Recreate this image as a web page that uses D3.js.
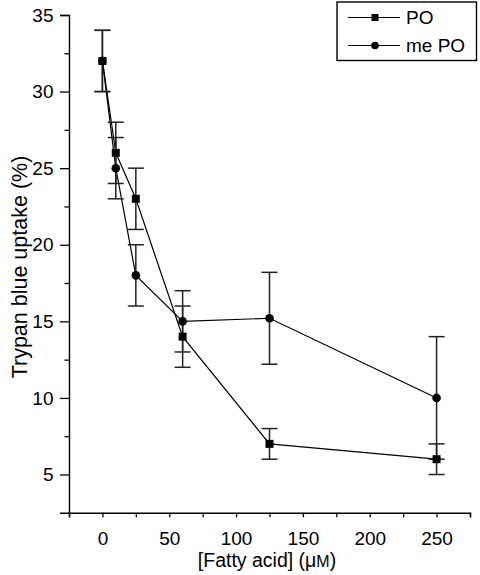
<!DOCTYPE html>
<html>
<head>
<meta charset="utf-8">
<script src="https://cdn.jsdelivr.net/npm/d3@7"></script>
<style>
  html, body { margin: 0; padding: 0; background: #fff; }
  svg { display: block; }
  text { font-family: "Liberation Sans", Arial, Helvetica, sans-serif; fill: #000; }
</style>
</head>
<body>
<svg id="chart" width="480" height="575"></svg>
<script>
// ---- data ----
const concentrations = [0, 10, 25, 60, 125, 250];
const poValues   = [32, 26, 23, 14, 7, 6];
const poErrors   = [2, 2, 2, 2, 1, 1];
const mePoValues = [32, 25, 18, 15, 15.2, 10];
const mePoErrors = [2, 2, 2, 2, 3, 4];
const seriesNames = ["PO", "me PO"];
const xTickLabels = [0, 50, 100, 150, 200, 250];
const yTickLabels = [5, 10, 15, 20, 25, 30, 35];
const xMinorTicks = [-25, 0, 25, 50, 75, 100, 125, 150, 175, 200, 225, 250, 275];
const yMinorTicks = [7.5, 12.5, 17.5, 22.5, 27.5, 32.5];

const svg = d3.select("#chart");
const x = d3.scaleLinear().domain([-25, 275]).range([69, 470]);
const y = d3.scaleLinear().domain([2.5, 35]).range([512.8, 15]);

const series = [
  { name: seriesNames[0], vals: poValues, errs: poErrors, shape: "square" },
  { name: seriesNames[1], vals: mePoValues, errs: mePoErrors, shape: "circle" }
];

// ---- axes ----
const yAxisMajor = d3.axisLeft(y).tickValues(yTickLabels).tickSize(9).tickPadding(6.5).tickFormat(d3.format("d"));
const yAxisMinor = d3.axisLeft(y).tickValues(yMinorTicks).tickSize(4.5).tickFormat("");
const xAxisMajor = d3.axisBottom(x).tickValues(xMinorTicks).tickSize(4.5).tickPadding(14.2)
  .tickFormat(d => xTickLabels.includes(d) ? d : "");

const gy = svg.append("g").attr("transform", `translate(${x(-25)},0)`).call(yAxisMajor);
const gym = svg.append("g").attr("transform", `translate(${x(-25)},0)`).call(yAxisMinor);
const gx = svg.append("g").attr("transform", `translate(0,${y(2.5)})`).call(xAxisMajor);
gym.select(".domain").remove();
[gy, gym, gx].forEach(g => {
  g.selectAll("path.domain").attr("stroke", "#000").attr("stroke-width", 1.4);
  g.selectAll(".tick line").attr("stroke", "#000").attr("stroke-width", 1.3);
  g.selectAll(".tick text").style("font-size", "19px")
    .style("font-family", '"Liberation Sans", Arial, sans-serif').attr("fill", "#000");
});
gx.selectAll(".tick text").attr("y", 18.7).attr("dy", "0.71em");

// axis titles
svg.append("text")
  .attr("transform", `translate(27,267) rotate(-90)`)
  .attr("text-anchor", "middle")
  .style("font-size", "21.5px")
  .text("Trypan blue uptake (%)");

const xt = svg.append("text")
  .attr("x", 267)
  .attr("y", 567)
  .attr("text-anchor", "middle")
  .style("font-size", "19.5px");
xt.append("tspan").text("[Fatty acid] (μ");
xt.append("tspan").style("font-size", "16px").text("M");
xt.append("tspan").text(")");

// ---- lines ----
const line = d3.line().x((d, i) => x(concentrations[i])).y(d => y(d));
series.forEach(s => {
  svg.append("path")
    .datum(s.vals)
    .attr("d", line)
    .attr("fill", "none")
    .attr("stroke", "#000")
    .attr("stroke-width", 1.2);
});

// ---- error bars ----
const capHalf = 8;
series.forEach(s => {
  const g = svg.append("g").attr("stroke", "#222").attr("stroke-width", 1.5);
  s.vals.forEach((v, i) => {
    const cx = x(concentrations[i]);
    const top = y(v + s.errs[i]);
    const bot = y(v - s.errs[i]);
    g.append("line").attr("x1", cx).attr("x2", cx).attr("y1", top).attr("y2", bot);
    g.append("line").attr("x1", cx - capHalf).attr("x2", cx + capHalf).attr("y1", top).attr("y2", top);
    g.append("line").attr("x1", cx - capHalf).attr("x2", cx + capHalf).attr("y1", bot).attr("y2", bot);
  });
});

// ---- markers ----
function drawMarker(g, shape, cx, cy) {
  if (shape === "square") {
    g.append("rect").attr("x", cx - 4).attr("y", cy - 4).attr("width", 8).attr("height", 8).attr("fill", "#000");
  } else {
    g.append("circle").attr("cx", cx).attr("cy", cy).attr("r", 4.3).attr("fill", "#000");
  }
}
// draw circles first so squares are on top at x=0
[series[1], series[0]].forEach(s => {
  const g = svg.append("g");
  s.vals.forEach((v, i) => drawMarker(g, s.shape, x(concentrations[i]), y(v)));
});

// ---- legend ----
const lg = svg.append("g");
lg.append("rect").attr("x", 337).attr("y", 2).attr("width", 139.5).attr("height", 58.5)
  .attr("fill", "#fff").attr("stroke", "#000").attr("stroke-width", 1.4);
const legendRows = [17.5, 45.5];
series.forEach((s, i) => {
  const ly = legendRows[i];
  lg.append("line").attr("x1", 348).attr("x2", 400).attr("y1", ly).attr("y2", ly)
    .attr("stroke", "#000").attr("stroke-width", 1.2);
  if (s.shape === "square") {
    lg.append("rect").attr("x", 375 - 3.5).attr("y", ly - 3.5).attr("width", 7).attr("height", 7).attr("fill", "#000");
  } else {
    lg.append("circle").attr("cx", 375).attr("cy", ly).attr("r", 3.8).attr("fill", "#000");
  }
  lg.append("text").attr("x", 406).attr("y", ly).attr("dy", "0.35em")
    .style("font-size", "19px").text(s.name);
});
</script>
</body>
</html>
